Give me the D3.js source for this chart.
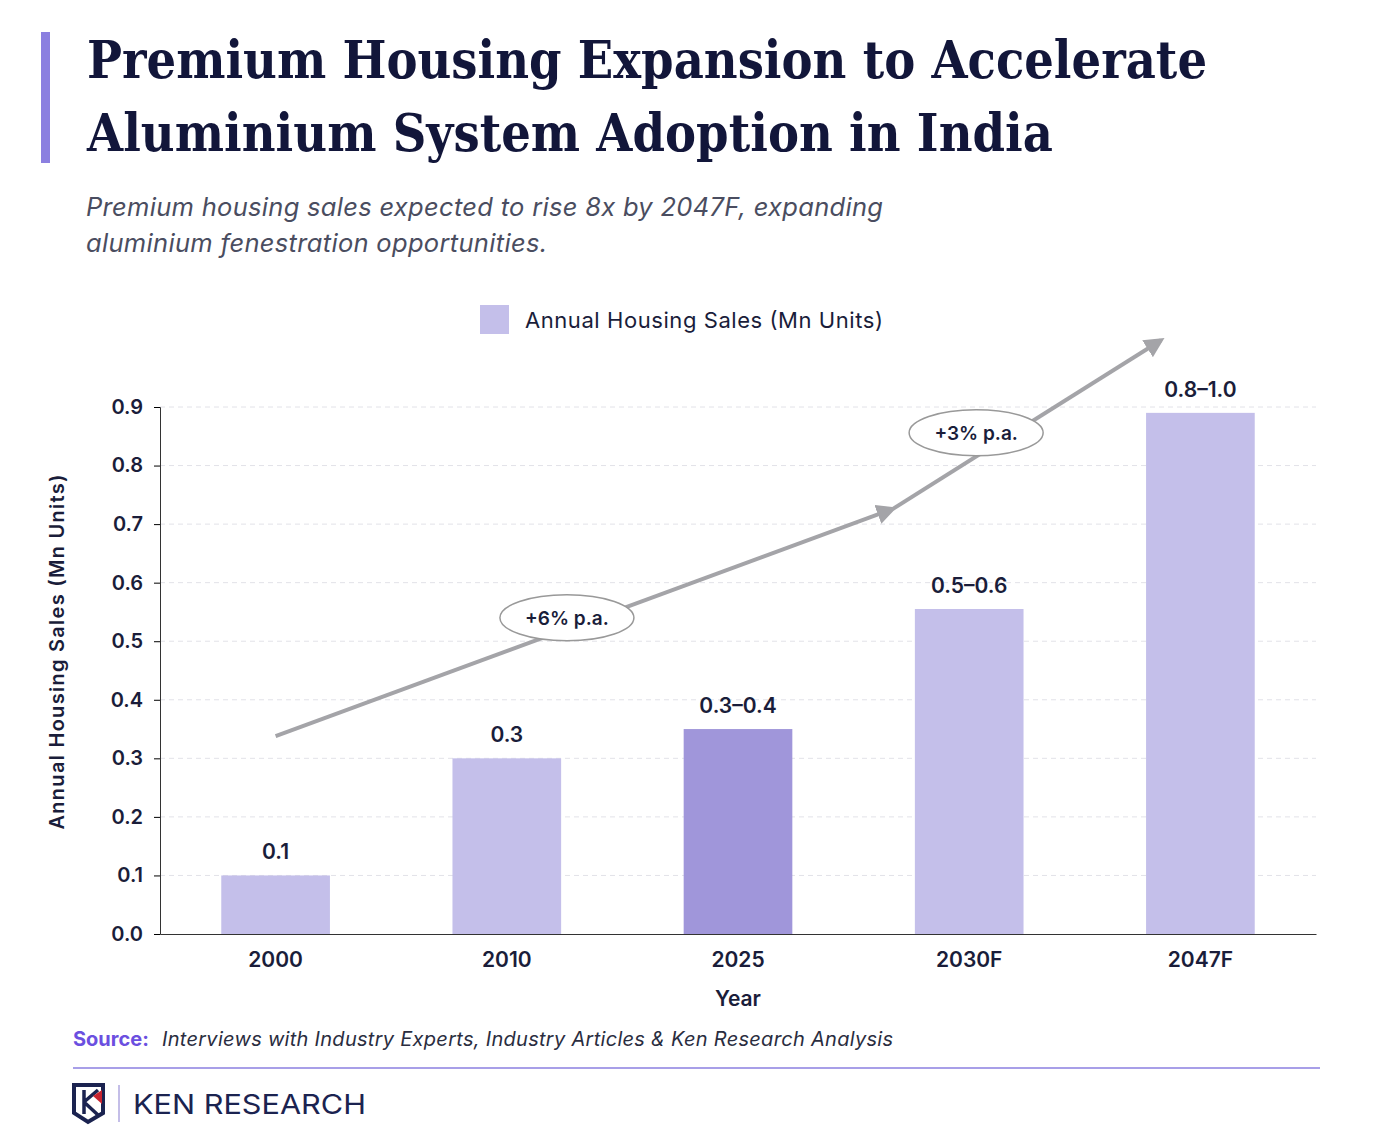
<!DOCTYPE html><html><head><meta charset="utf-8"><script src="https://cdn.jsdelivr.net/npm/d3@7"></script>
<style>body{margin:0;background:#fff}</style></head><body><svg id="c" width="1378" height="1141"></svg>
<script>
const categories=["2000","2010","2025","2030F","2047F"];
const values=[0.1,0.3,0.35,0.555,0.89];
const labels=["0.1","0.3","0.3–0.4","0.5–0.6","0.8–1.0"];
const highlight=[false,false,true,false,false];
const yTicks=[0,0.1,0.2,0.3,0.4,0.5,0.6,0.7,0.8,0.9];
// trend arrows in (band index, value) units
const arrow1=[[0,0.338],[2.67,0.726]];
const arrow2=[[2.67,0.726],[3.83,1.014]];
const bubbles=[{i:1.26,v:0.54,t:"+6% p.a."},{i:3.03,v:0.856,t:"+3% p.a."}];

const svg=d3.select("#c");
const F="Inter, 'Open Sans', sans-serif";
svg.append("rect").attr("x",41).attr("y",32).attr("width",9).attr("height",131).attr("fill","#8b7fe0");
svg.append("text").attr("x",87).attr("y",78).attr("font-family","'DejaVu Serif',serif").attr("font-weight","bold").attr("font-size",52).attr("fill","#12163a").attr("textLength",1120).attr("lengthAdjust","spacingAndGlyphs").text("Premium Housing Expansion to Accelerate");
svg.append("text").attr("x",87).attr("y",151).attr("font-family","'DejaVu Serif',serif").attr("font-weight","bold").attr("font-size",52).attr("fill","#12163a").attr("textLength",966).attr("lengthAdjust","spacingAndGlyphs").text("Aluminium System Adoption in India");
svg.append("text").attr("x",86).attr("y",216).attr("font-family",F).attr("font-style","italic").attr("font-size",25.5).attr("fill","#4a4d60").attr("textLength",797).text("Premium housing sales expected to rise 8x by 2047F, expanding");
svg.append("text").attr("x",86).attr("y",252).attr("font-family",F).attr("font-style","italic").attr("font-size",25.5).attr("fill","#4a4d60").attr("textLength",461).text("aluminium fenestration opportunities.");
// legend
svg.append("rect").attr("x",480).attr("y",305).attr("width",29).attr("height",29).attr("fill","#c4bfea");
svg.append("text").attr("x",525).attr("y",328).attr("font-family",F).attr("font-size",22).attr("fill","#1a1d3a").attr("textLength",358).text("Annual Housing Sales (Mn Units)");

const x=d3.scaleBand().domain(categories).range([160,1316]).paddingInner(0.53).paddingOuter(0.265);
const y=d3.scaleLinear().domain([0,0.9]).range([934,407]);
const xi=i=>x(categories[0])+x.bandwidth()/2+i*x.step();

const g=svg.append("g");
g.selectAll(".gl").data(yTicks.slice(1)).join("line").attr("x1",160).attr("x2",1316).attr("y1",d=>y(d)).attr("y2",d=>y(d)).attr("stroke","#e2e2e8").attr("stroke-dasharray","5,4");
g.selectAll(".bar").data(values).join("rect").attr("x",(d,i)=>x(categories[i])).attr("width",x.bandwidth()).attr("y",d=>y(d)).attr("height",d=>y(0)-y(d)).attr("fill",(d,i)=>highlight[i]?"#a096da":"#c4bfea");
g.selectAll(".lb").data(values).join("text").attr("x",(d,i)=>x(categories[i])+x.bandwidth()/2).attr("y",d=>y(d)-16).attr("text-anchor","middle").attr("font-family",F).attr("font-weight",600).attr("font-size",21).attr("fill","#1a1d3a").text((d,i)=>labels[i]);

const ya=svg.append("g").attr("transform","translate(160,0)").call(d3.axisLeft(y).tickValues(yTicks).tickFormat(d3.format(".1f")).tickSize(6));
ya.select(".domain").attr("stroke","#333");
ya.selectAll("text").attr("font-family",F).attr("font-weight",600).attr("font-size",20).attr("fill","#1a1d3a").attr("dx",-8);
const xa=svg.append("g").attr("transform","translate(0,934)").call(d3.axisBottom(x).tickSize(0).tickSizeOuter(0));
xa.select(".domain").attr("stroke","#333");
xa.selectAll("text").attr("font-family",F).attr("font-weight",600).attr("font-size",21).attr("fill","#1a1d3a").attr("dy",30);
svg.append("text").attr("x",738).attr("y",1006).attr("text-anchor","middle").attr("font-family",F).attr("font-weight",600).attr("font-size",21).attr("fill","#1a1d3a").text("Year");
svg.append("text").attr("transform","translate(64,652) rotate(-90)").attr("text-anchor","middle").attr("font-family",F).attr("font-weight",600).attr("font-size",20).attr("fill","#1a1d3a").attr("textLength",355).text("Annual Housing Sales (Mn Units)");

// arrows
const defs=svg.append("defs");
defs.append("marker").attr("id","ah").attr("viewBox","0 0 10 10").attr("refX",8).attr("refY",5).attr("markerWidth",5).attr("markerHeight",5).attr("orient","auto").append("path").attr("d","M0,0L10,5L0,10z").attr("fill","#a4a4a8");
[arrow1,arrow2].forEach(a=>{svg.append("line").attr("x1",xi(a[0][0])).attr("y1",y(a[0][1])).attr("x2",xi(a[1][0])).attr("y2",y(a[1][1])).attr("stroke","#a4a4a8").attr("stroke-width",4).attr("marker-end","url(#ah)");});
bubbles.forEach(b=>{svg.append("ellipse").attr("cx",xi(b.i)).attr("cy",y(b.v)).attr("rx",67).attr("ry",23).attr("fill","#fff").attr("stroke","#999").attr("stroke-width",1.5);
svg.append("text").attr("x",xi(b.i)).attr("y",y(b.v)+7).attr("text-anchor","middle").attr("font-family",F).attr("font-weight",600).attr("font-size",19).attr("fill","#1a1d3a").text(b.t);});

// footer
const st=svg.append("text").attr("x",73).attr("y",1046).attr("font-family",F).attr("font-size",20);
st.append("tspan").attr("font-weight",700).attr("fill","#6b4fe0").text("Source:");
st.append("tspan").attr("x",162).attr("font-style","italic").attr("fill","#2a2d40").attr("textLength",731).text("Interviews with Industry Experts, Industry Articles & Ken Research Analysis");
svg.append("line").attr("x1",73).attr("x2",1320).attr("y1",1068).attr("y2",1068).attr("stroke","#8b7fe0").attr("stroke-width",1.5);
svg.append("path").attr("d","M74,1085H103V1113L88,1122L74,1113Z").attr("fill","none").attr("stroke","#1b2350").attr("stroke-width",4);
svg.append("path").attr("d","M84,1090V1114M84,1102L98,1090M84,1102L98,1115").attr("fill","none").attr("stroke","#1b2350").attr("stroke-width",3.5);
svg.append("path").attr("d","M93,1096L102,1090V1104Z").attr("fill","#c8242f");
svg.append("line").attr("x1",119).attr("x2",119).attr("y1",1085).attr("y2",1122).attr("stroke","#b0a8e0").attr("stroke-width",1.5);
svg.append("text").attr("x",133).attr("y",1114).attr("font-family",F).attr("font-size",27).attr("fill","#1b2350").attr("textLength",233).attr("lengthAdjust","spacingAndGlyphs").text("KEN RESEARCH");
</script></body></html>
